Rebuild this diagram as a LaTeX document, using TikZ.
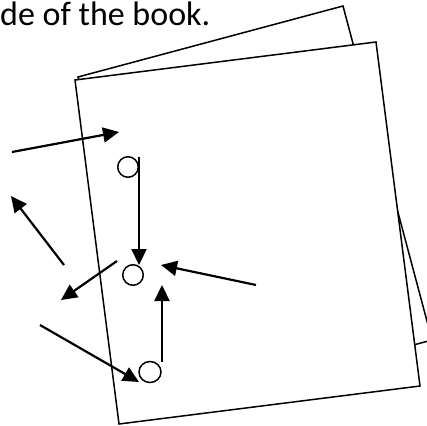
\documentclass[tikz,border=0pt]{standalone}
\usepackage{fontspec}
\setmainfont{Carlito}
\usetikzlibrary{arrows.meta,shapes.geometric}
\begin{document}
\begin{tikzpicture}[x=1pt,y=-1pt,
  page/.style={draw=black,line width=1.5pt,fill=white,line join=miter},
  hole/.style={draw=black,line width=1.5pt,circle,inner sep=0pt,minimum size=20.5pt},
  arr/.style={draw=black,line width=2.2pt,-{Triangle[length=16pt,width=15pt]}},
  lbl/.style={inner sep=0pt,anchor=base west,font=\fontsize{34}{40}\selectfont}]
\useasboundingbox (0,0) rectangle (427,425);
\clip (0,0) rectangle (427,425);
% back page
\draw[page] (78,77) -- (343,6) -- (432,340) -- (167,411) -- cycle;
% front page
\draw[page] (75,80) -- (376,42) -- (420,386) -- (119,424) -- cycle;
% text
\node[lbl] (t) at (0,26) {de of the book.};
% holes
\node[hole] (c1) at (128,167) {};
\node[hole] (c2) at (133,275) {};
\node[draw=black,line width=1.5pt,ellipse,inner sep=0pt,minimum width=22pt,minimum height=21pt] (c3) at (150,372) {};
% arrow coordinates
\coordinate (a1s) at (12,152);
\coordinate (a1e) at (119,132);
\coordinate (a2s) at (139,157);
\coordinate (a2e) at (139,265);
\coordinate (a3s) at (64,265);
\coordinate (a3e) at (11,196);
\coordinate (a4s) at (117,261);
\coordinate (a4e) at (61,300);
\coordinate (a5s) at (256,285);
\coordinate (a5e) at (161,265);
\coordinate (a6s) at (162,362);
\coordinate (a6e) at (162,285);
\coordinate (a7s) at (40,325);
\coordinate (a7e) at (139,382);
\draw[arr] (a1s) -- (a1e);
\draw[arr] (a2s) -- (a2e);
\draw[arr] (a3s) -- (a3e);
\draw[arr] (a4s) -- (a4e);
\draw[arr] (a5s) -- (a5e);
\draw[arr] (a6s) -- (a6e);
\draw[arr] (a7s) -- (a7e);
\end{tikzpicture}
\end{document}
